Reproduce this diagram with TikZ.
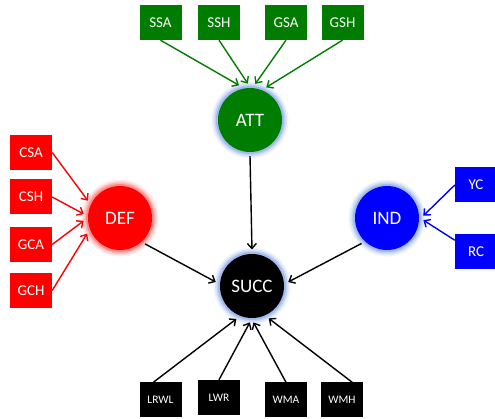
\documentclass[tikz,border=0pt]{standalone}
\usepackage{fontspec}
\setmainfont{Carlito}
\usetikzlibrary{arrows.meta}
\definecolor{mgreen}{RGB}{0,125,0}
\definecolor{mred}{RGB}{255,0,0}
\definecolor{mblue}{RGB}{0,0,255}
\definecolor{glowblue}{RGB}{110,150,225}
\definecolor{glowred}{RGB}{255,80,80}
\tikzset{
  box/.style={rectangle, minimum width=42pt, minimum height=35pt, inner sep=0pt, text=white, font=\fontsize{15}{15}\selectfont},
  sbox/.style={box, font=\fontsize{11.5}{11.5}\selectfont},
  circ/.style={circle, minimum size=64pt, inner sep=0pt, outer sep=4pt, text=white, font=\fontsize{19}{19}\selectfont},
  glow/.style={preaction={draw=#1, line width=13pt, opacity=.1},
               preaction={draw=#1, line width=10pt, opacity=.15},
               preaction={draw=#1, line width=7pt, opacity=.25},
               preaction={draw=#1, line width=4pt, opacity=.4}},
  arr/.style={-{Straight Barb[length=5pt,width=9pt,line width=1.4pt]}, line width=1.4pt, shorten >=0.5pt},
}
\begin{document}
\begin{tikzpicture}[x=1pt,y=1pt]
\useasboundingbox (0,0) rectangle (495,419);
% top green boxes
\node[box, fill=mgreen] (SSA) at (160.5,396.5) {SSA};
\node[box, fill=mgreen] (SSH) at (219,396.5) {SSH};
\node[box, fill=mgreen] (GSA) at (286,396.5) {GSA};
\node[box, fill=mgreen] (GSH) at (342.5,396.5) {GSH};
% red boxes
\node[box, fill=mred] (CSA) at (31,266.5) {CSA};
\node[box, fill=mred] (CSH) at (31,222) {CSH};
\node[box, fill=mred] (GCA) at (31,174.5) {GCA};
\node[box, fill=mred] (GCH) at (31,128.5) {GCH};
% blue boxes
\node[box, fill=mblue] (YC) at (476,234) {YC};
\node[box, fill=mblue] (RC) at (476,167.5) {RC};
% black boxes
\node[sbox, fill=black] (LRWL) at (160.5,19) {LRWL};
\node[sbox, fill=black] (LWR) at (219,21.5) {LWR};
\node[sbox, fill=black] (WMA) at (286,19) {WMA};
\node[sbox, fill=black] (WMH) at (342,19) {WMH};
% circles
\node[circ, fill=mgreen, glow=glowblue] (ATT) at (250,299) {ATT};
\node[circ, fill=mred, glow=glowred] (DEF) at (120,201) {DEF};
\node[circ, fill=mblue, glow=glowblue] (IND) at (387,201) {IND};
\node[circ, fill=black, glow=glowblue] (SUCC) at (252,133) {SUCC};
% green arrows
\draw[arr, mgreen] (SSA.south) -- (ATT.107);
\draw[arr, mgreen] (SSH.south) -- (ATT.93);
\draw[arr, mgreen] (GSA.south) -- (ATT.82);
\draw[arr, mgreen] (GSH.south) -- (ATT.64);
% red arrows
\draw[arr, mred] (CSA.east) -- (DEF.152);
\draw[arr, mred] (CSH.east) -- (DEF.174);
\draw[arr, mred] (GCA.east) -- (DEF.184);
\draw[arr, mred] (GCH.east) -- (DEF.205);
% blue arrows
\draw[arr, mblue] (YC.west) -- (IND.3);
\draw[arr, mblue] (RC.152) -- (IND.-3);
% black arrows
\draw[arr] (ATT.south) -- (SUCC.north);
\draw[arr] (DEF.-46) -- (SUCC.174);
\draw[arr] (IND.-135) -- (SUCC.6);
\draw[arr] (LRWL.112) -- (SUCC.-115);
\draw[arr] (LWR.north) -- (SUCC.-93);
\draw[arr] (WMA.north) -- (SUCC.-88);
\draw[arr] (WMH.60) -- (SUCC.-63);
\end{tikzpicture}
\end{document}
